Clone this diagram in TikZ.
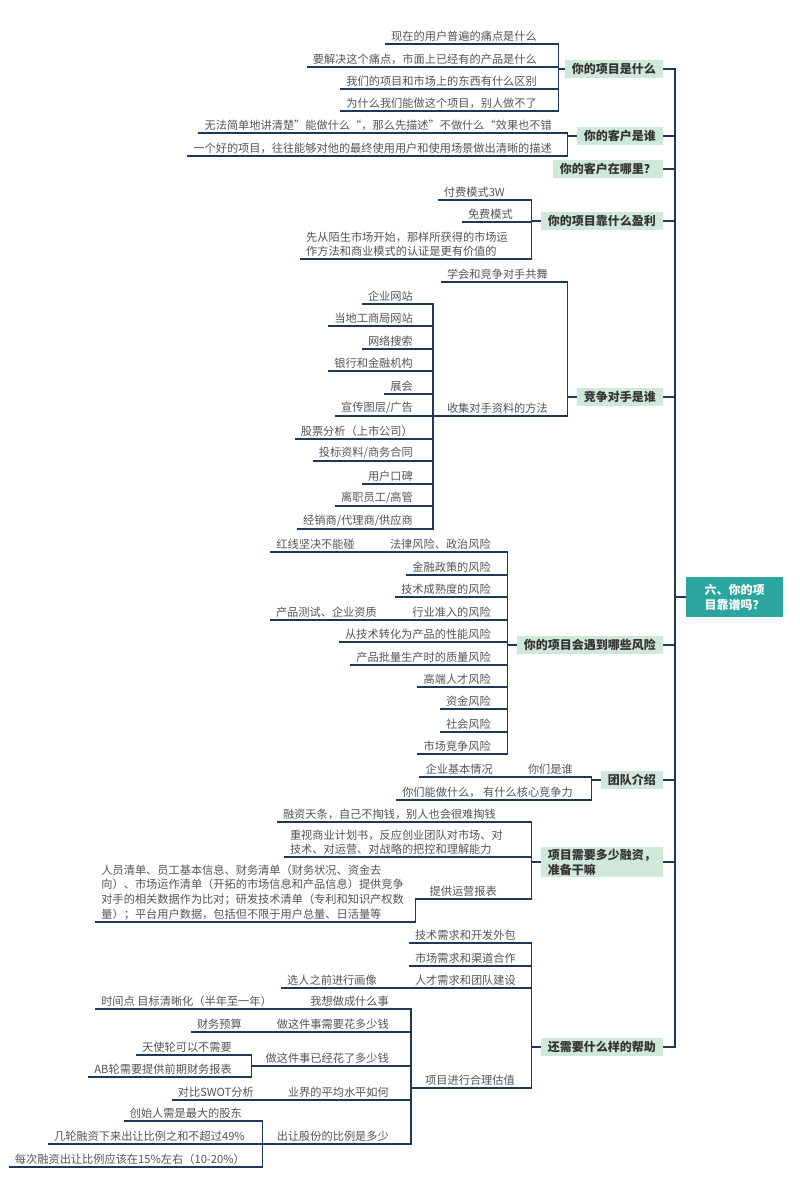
\documentclass[tikz,border=0pt]{standalone}
\usepackage{fontspec}
\usepackage{xcolor}
\usepackage{tikz}
\usetikzlibrary{positioning, calc}
\newfontfamily\cjk{Noto Sans CJK SC}
\definecolor{linknavy}{RGB}{31,56,89}
\definecolor{topicmint}{RGB}{208,232,217}
\definecolor{rootteal}{RGB}{43,166,158}
\definecolor{leafgray}{RGB}{85,85,85}
\definecolor{topicgray}{RGB}{51,51,51}

\begin{document}
\begin{tikzpicture}[x=1pt, y=-1pt,
    root/.style={rectangle, fill=rootteal, text=white, font=\cjk\bfseries\fontsize{12}{15}\selectfont, align=left, minimum width=97pt, minimum height=40pt, anchor=west},
    topic/.style={rectangle, fill=topicmint, text=topicgray, font=\cjk\bfseries\fontsize{12}{15}\selectfont, align=left, inner xsep=7pt, inner ysep=2pt, minimum height=18pt, anchor=east},
    leaf/.style={text=leafgray, font=\cjk\fontsize{11.2}{14.6}\selectfont, align=left, inner xsep=6pt, inner ysep=2pt, anchor=south east},
    link/.style={draw=linknavy, line width=1.5pt}]

    \useasboundingbox[fill=white] (0,0) rectangle (800,1194);

    % Root
    \node[root] (root) at (686,597) {六、你的项\\目靠谱吗？};

    % Topics
    \node[topic] (t1) at (663,69) {你的项目是什么};
    \node[topic] (t2) at (663,136) {你的客户是谁};
    \node[topic] (t3) at (663,169) {你的客户在哪里？};
    \node[topic] (t4) at (663,221) {你的项目靠什么盈利};
    \node[topic] (t5) at (663,397) {竞争对手是谁};
    \node[topic] (t6) at (663,645) {你的项目会遇到哪些风险};
    \node[topic] (t7) at (663,780) {团队介绍};
    \node[topic] (t8) at (663,862) {项目需要多少融资，\\准备干嘛};
    \node[topic] (t9) at (663,1047) {还需要什么样的帮助};

    % What the project is
    \node[leaf] (a1) at (543,44) {现在的用户普遍的痛点是什么};
    \node[leaf] (a2) at (543,67) {要解决这个痛点，市面上已经有的产品是什么};
    \node[leaf] (a3) at (543,89) {我们的项目和市场上的东西有什么区别};
    \node[leaf] (a4) at (543,111) {为什么我们能做这个项目，别人做不了};

    % Customers
    \node[leaf] (b1) at (558,133) {无法简单地讲清楚”能做什么“，那么先描述”不做什么“效果也不错};
    \node[leaf] (b2) at (558,156) {一个好的项目，往往能够对他的最终使用用户和使用场景做出清晰的描述};

    % Profit
    \node[leaf] (d1) at (511,200) {付费模式3W};
    \node[leaf] (d2) at (519,222) {免费模式};
    \node[leaf] (d3) at (514,259) {先从陌生市场开始，那样所获得的市场运\\作方法和商业模式的认证是更有价值的};

    % Competitors
    \node[leaf] (e1) at (554,282) {学会和竞争对手共舞};
    \node[leaf] (e2) at (554,416) {收集对手资料的方法};
    \node[leaf] (f1) at (419,304) {企业网站};
    \node[leaf] (f2) at (419,326) {当地工商局网站};
    \node[leaf] (f3) at (419,349) {网络搜索};
    \node[leaf] (f4) at (419,371) {银行和金融机构};
    \node[leaf] (f5) at (419,394) {展会};
    \node[leaf] (f6) at (419,416) {宣传图层/广告};
    \node[leaf] (f7) at (419,439) {股票分析（上市公司）};
    \node[leaf] (f8) at (419,461) {投标资料/商务合同};
    \node[leaf] (f9) at (419,484) {用户口碑};
    \node[leaf] (f10) at (419,506) {离职员工/高管};
    \node[leaf] (f11) at (419,529) {经销商/代理商/供应商};

    % Risks
    \node[leaf] (g1) at (497,552) {法律风险、政治风险};
    \node[leaf] (g1a) at (361,552) {红线坚决不能碰};
    \node[leaf] (g2) at (497,575) {金融政策的风险};
    \node[leaf] (g3) at (497,597) {技术成熟度的风险};
    \node[leaf] (g4) at (497,620) {行业准入的风险};
    \node[leaf] (g4a) at (383,620) {产品测试、企业资质};
    \node[leaf] (g5) at (497,642) {从技术转化为产品的性能风险};
    \node[leaf] (g6) at (497,665) {产品批量生产时的质量风险};
    \node[leaf] (g7) at (497,687) {高端人才风险};
    \node[leaf] (g8) at (497,709) {资金风险};
    \node[leaf] (g9) at (497,732) {社会风险};
    \node[leaf] (g10) at (497,754) {市场竞争风险};

    % Team
    \node[leaf] (h1) at (579,777) {你们是谁};
    \node[leaf] (h1a) at (499,777) {企业基本情况};
    \node[leaf] (h2) at (579,800) {你们能做什么， 有什么核心竞争力};

    % Funding
    \node[leaf] (i1) at (502,822) {融资天条，自己不掏钱，别人也会很难掏钱};
    \node[leaf] (i2) at (509,857) {重视商业计划书，反应创业团队对市场、对\\技术、对运营、对战略的把控和理解能力};
    \node[leaf] (i3) at (503,899) {提供运营报表};
    \node[leaf] (i3a) at (410,922) {人员清单、员工基本信息、财务清单（财务状况、资金去\\向）、市场运作清单（开拓的市场信息和产品信息）提供竞争\\对手的相关数据作为比对；研发技术清单（专利和知识产权数\\量）；平台用户数据，包括但不限于用户总量、日活量等};

    % Help
    \node[leaf] (j1) at (522,943) {技术需求和开发外包};
    \node[leaf] (j2) at (522,966) {市场需求和渠道合作};
    \node[leaf] (j3) at (522,988) {人才需求和团队建设};
    \node[leaf] (j3a) at (383,988) {选人之前进行画像};
    \node[leaf] (j4) at (521,1088) {项目进行合理估值};
    \node[leaf] (k1) at (395,1009) {我想做成什么事};
    \node[leaf] (k1a) at (278,1009) {时间点 目标清晰化（半年至一年）};
    \node[leaf] (k2) at (395,1032) {做这件事需要花多少钱};
    \node[leaf] (k2a) at (248,1032) {财务预算};
    \node[leaf] (k3) at (395,1066) {做这件事已经花了多少钱};
    \node[leaf] (k3a) at (238,1055) {天使轮可以不需要};
    \node[leaf] (k3b) at (238,1077) {AB轮需要提供前期财务报表};
    \node[leaf] (k4) at (395,1100) {业界的平均水平如何};
    \node[leaf] (k4a) at (260,1100) {对比SWOT分析};
    \node[leaf] (k5) at (395,1144) {出让股份的比例是多少};
    \node[leaf] (k5a) at (248,1121) {创始人需是最大的股东};
    \node[leaf] (k5b) at (251,1144) {几轮融资下来出让比例之和不超过49\%};
    \node[leaf] (k5c) at (251,1167) {每次融资出让比例应该在15\%左右（10-20\%）};

    % Connections
    \draw[link] (root.west) -- ++(-11pt,0) |- (t1.east);
    \draw[link] (root.west) -- ++(-11pt,0) |- (t2.east);
    \draw[link] (root.west) -- ++(-11pt,0) |- (t3.east);
    \draw[link] (root.west) -- ++(-11pt,0) |- (t4.east);
    \draw[link] (root.west) -- ++(-11pt,0) |- (t5.east);
    \draw[link] (root.west) -- ++(-11pt,0) |- (t6.east);
    \draw[link] (root.west) -- ++(-11pt,0) |- (t7.east);
    \draw[link] (root.west) -- ++(-11pt,0) |- (t8.east);
    \draw[link] (root.west) -- ++(-11pt,0) |- (t9.east);

    \draw[link] (a1.south west) -| ([xshift=-6pt]t1.west) -- (t1.west);
    \draw[link] (a2.south west) -| ([xshift=-6pt]t1.west);
    \draw[link] (a3.south west) -| ([xshift=-6pt]t1.west);
    \draw[link] (a4.south west) -| ([xshift=-6pt]t1.west);

    \draw[link] (b1.south west) -| ([xshift=-9pt]t2.west) -- (t2.west);
    \draw[link] (b2.south west) -| ([xshift=-9pt]t2.west);

    \draw[link] (d1.south west) -| ([xshift=-9pt]t4.west) -- (t4.west);
    \draw[link] (d2.south west) -| ([xshift=-9pt]t4.west);
    \draw[link] (d3.south west) -| ([xshift=-9pt]t4.west);

    \draw[link] (e1.south west) -| ([xshift=-9pt]t5.west) -- (t5.west);
    \draw[link] ([xshift=-8pt]e2.south west) -| ([xshift=-9pt]t5.west);
    \draw[link] (f1.south west) -| ([xshift=-8pt]e2.south west);
    \draw[link] (f2.south west) -| ([xshift=-8pt]e2.south west);
    \draw[link] (f3.south west) -| ([xshift=-8pt]e2.south west);
    \draw[link] (f4.south west) -| ([xshift=-8pt]e2.south west);
    \draw[link] (f5.south west) -| ([xshift=-8pt]e2.south west);
    \draw[link] (f6.south west) -| ([xshift=-8pt]e2.south west);
    \draw[link] (f7.south west) -| ([xshift=-8pt]e2.south west);
    \draw[link] (f8.south west) -| ([xshift=-8pt]e2.south west);
    \draw[link] (f9.south west) -| ([xshift=-8pt]e2.south west);
    \draw[link] (f10.south west) -| ([xshift=-8pt]e2.south west);
    \draw[link] (f11.south west) -| ([xshift=-8pt]e2.south west);

    \draw[link] ([xshift=-8pt]g1.south west) -| ([xshift=-9pt]t6.west) -- (t6.west);
    \draw[link] (g1a.south west) -- ([xshift=-8pt]g1.south west);
    \draw[link] (g2.south west) -| ([xshift=-9pt]t6.west);
    \draw[link] (g3.south west) -| ([xshift=-9pt]t6.west);
    \draw[link] ([xshift=-8pt]g4.south west) -| ([xshift=-9pt]t6.west);
    \draw[link] (g4a.south west) -- ([xshift=-8pt]g4.south west);
    \draw[link] (g5.south west) -| ([xshift=-9pt]t6.west);
    \draw[link] (g6.south west) -| ([xshift=-9pt]t6.west);
    \draw[link] (g7.south west) -| ([xshift=-9pt]t6.west);
    \draw[link] (g8.south west) -| ([xshift=-9pt]t6.west);
    \draw[link] (g9.south west) -| ([xshift=-9pt]t6.west);
    \draw[link] (g10.south west) -| ([xshift=-9pt]t6.west);

    \draw[link] ([xshift=-8pt]h1.south west) -| ([xshift=-9pt]t7.west) -- (t7.west);
    \draw[link] (h1a.south west) -- ([xshift=-8pt]h1.south west);
    \draw[link] (h2.south west) -| ([xshift=-9pt]t7.west);

    \draw[link] (i1.south west) -| ([xshift=-9pt]t8.west) -- (t8.west);
    \draw[link] (i2.south west) -| ([xshift=-9pt]t8.west);
    \draw[link] ([xshift=-8pt]i3.south west) -| ([xshift=-9pt]t8.west);
    \draw[link] (i3a.south west) -| ([xshift=-8pt]i3.south west);

    \draw[link] (j1.south west) -| ([xshift=-9pt]t9.west) -- (t9.west);
    \draw[link] (j2.south west) -| ([xshift=-9pt]t9.west);
    \draw[link] ([xshift=-8pt]j3.south west) -| ([xshift=-9pt]t9.west);
    \draw[link] (j3a.south west) -- ([xshift=-8pt]j3.south west);
    \draw[link] ([xshift=-8pt]j4.south west) -| ([xshift=-9pt]t9.west);
    \draw[link] ([xshift=-8pt]k1.south west) -| ([xshift=-8pt]j4.south west);
    \draw[link] (k1a.south west) -- ([xshift=-8pt]k1.south west);
    \draw[link] ([xshift=-8pt]k2.south west) -| ([xshift=-8pt]j4.south west);
    \draw[link] (k2a.south west) -- ([xshift=-8pt]k2.south west);
    \draw[link] ([xshift=-8pt]k3.south west) -| ([xshift=-8pt]j4.south west);
    \draw[link] (k3a.south west) -| ([xshift=-8pt]k3.south west);
    \draw[link] (k3b.south west) -| ([xshift=-8pt]k3.south west);
    \draw[link] ([xshift=-8pt]k4.south west) -| ([xshift=-8pt]j4.south west);
    \draw[link] (k4a.south west) -- ([xshift=-8pt]k4.south west);
    \draw[link] ([xshift=-8pt]k5.south west) -| ([xshift=-8pt]j4.south west);
    \draw[link] (k5a.south west) -| ([xshift=-8pt]k5.south west);
    \draw[link] (k5b.south west) -| ([xshift=-8pt]k5.south west);
    \draw[link] (k5c.south west) -| ([xshift=-8pt]k5.south west);
\end{tikzpicture}
\end{document}
